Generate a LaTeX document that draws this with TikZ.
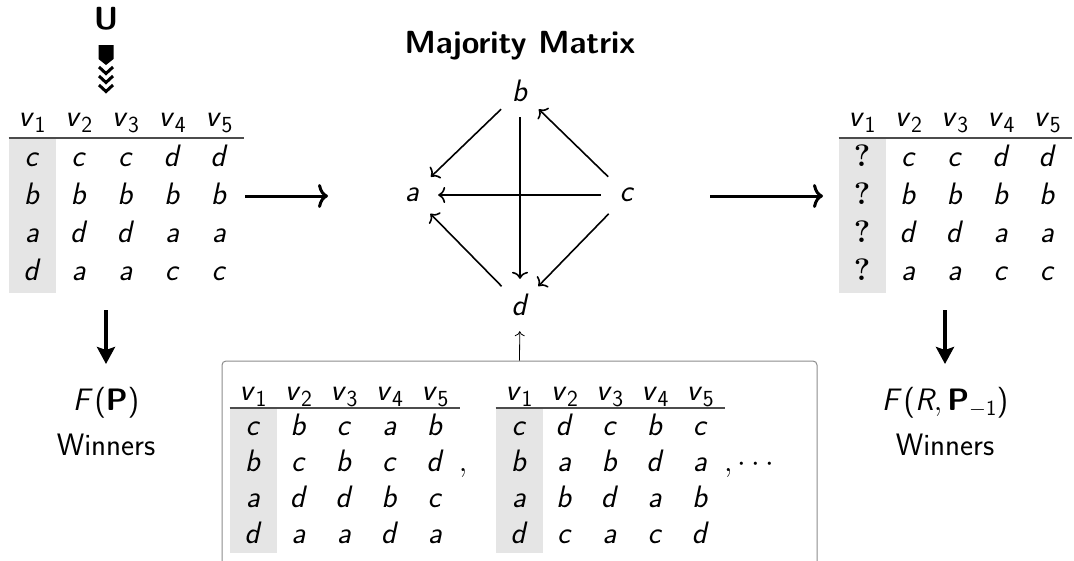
\RequirePackage{fix-cm}
\documentclass[tikz,border=0pt]{standalone}
\usepackage{amsmath}
\usetikzlibrary{arrows.meta}
\newcommand{\fs}{\fontsize{31}{36}\selectfont\sffamily}
\newcommand{\mv}[1]{\textit{v}\kern0.5pt\raisebox{-0.2em}{\fontsize{23}{26}\selectfont #1}}
\newcommand{\mi}[1]{\textit{#1}}
\newcommand{\qm}{{\rmfamily\bfseries ?}}
% #1 name, #2 x0, #3 dx, #4 header baseline, #5 rule y, #6 first row baseline, #7 dy, #8 gray bottom, #9 rows
\newcommand{\drawtab}[9]{%
  \fill[cellbg] ({#2-23.5}, #5) rectangle ({#2+23.5}, #8);
  \draw[tabrule] ({#2-23.5}, #5) -- ({#2+4*#3+25}, #5);
  \foreach \k in {1,...,5} {\node[cell] (#1-h\k) at ({#2+(\k-1)*#3}, #4) {\mv{\k}};}
  \foreach \r/\row in {#9} {%
    \foreach \e [count=\k from 0] in \row {\node[cell] (#1-\r-\k) at ({#2+\k*#3}, {#6+\r*#7}) {\e};}
  }%
}
\begin{document}
\begin{tikzpicture}[x=1pt,y=-1pt,
  every node/.style={font=\fs, inner sep=0pt},
  cell/.style={anchor=base},
  cellbg/.style={fill=black!10},
  tabrule/.style={draw=black!70, line width=1.3pt},
  vert/.style={circle, minimum size=52pt, inner sep=0pt},
  edge/.style={line width=1.6pt, -{Computer Modern Rightarrow[length=7pt,width=16pt]}},
  bigarrow/.style={line width=3pt, -{Computer Modern Rightarrow[length=10pt,width=24pt]}},
  downarrow/.style={line width=3.5pt, -{Stealth[length=17pt,width=18pt,inset=3pt]}},
  thinarrow/.style={line width=0.8pt, -{Computer Modern Rightarrow[length=5pt,width=10pt]}},
  boxstyle/.style={draw=black!45, line width=1pt, rounded corners=4pt}
]
\useasboundingbox (0,0) rectangle (1074,560);
\clip (0,0) rectangle (1074,560);

% U symbol
\node[font=\fontsize{32}{36}\selectfont\sffamily\bfseries] (U) at (106,19) {U};
\fill (98.5,45) -- (113.5,45) -- (113.5,59) -- (106,65) -- (98.5,59) -- cycle;
\foreach \yy in {67,76,85} {\draw[line width=3pt, line join=miter] (99,\yy) -- (106,{\yy+6.5}) -- (113,\yy);}

% left table
\drawtab{lt}{32}{46.75}{126}{138}{166}{38}{293}{0/{\mi{c},\mi{c},\mi{c},\mi{d},\mi{d}},1/{\mi{b},\mi{b},\mi{b},\mi{b},\mi{b}},2/{\mi{a},\mi{d},\mi{d},\mi{a},\mi{a}},3/{\mi{d},\mi{a},\mi{a},\mi{c},\mi{c}}}

% right table
\drawtab{rt}{862}{46.3}{126}{138}{166}{38}{293}{0/{\qm,\mi{c},\mi{c},\mi{d},\mi{d}},1/{\qm,\mi{b},\mi{b},\mi{b},\mi{b}},2/{\qm,\mi{d},\mi{d},\mi{a},\mi{a}},3/{\qm,\mi{a},\mi{a},\mi{c},\mi{c}}}

% majority matrix
\node[font=\fontsize{32}{36}\selectfont\sffamily\bfseries] (title) at (520,46) {Majority Matrix};
\node[vert] (b) at (520,91) {\mi{b}};
\node[vert] (a) at (412,195) {\mi{a}};
\node[vert] (c) at (627,195) {\mi{c}};
\node[vert] (d) at (520,305) {\mi{d}};
\draw[edge] (b) -- (a);
\draw[edge] (c) -- (b);
\draw[edge] (c) -- (a);
\draw[edge] (b) -- (d);
\draw[edge] (d) -- (a);
\draw[edge] (c) -- (d);

% horizontal arrows
\coordinate (l1) at (245,196);
\coordinate (l2) at (328,196);
\coordinate (r1) at (710,196);
\coordinate (r2) at (823,196);
\draw[bigarrow] (l1) -- (l2);
\draw[bigarrow] (r1) -- (r2);

% down arrows and winners
\coordinate (ld1) at (106,310);
\coordinate (ld2) at (106,364);
\coordinate (rd1) at (945,310);
\coordinate (rd2) at (945,364);
\draw[downarrow] (ld1) -- (ld2);
\draw[downarrow] (rd1) -- (rd2);
\node (fp) at (106,403) {$\textit{F}\,\textsf{(}\textbf{P}\textsf{)}$};
\node (wl) at (106,445) {Winners};
\node (frp) at (945,403) {$\textit{F}\,\textsf{(}\textit{R}, \textbf{P}_{-\textsf{1}}\textsf{)}$};
\node (wr) at (945,445) {Winners};

% bottom box
\node[boxstyle, minimum width=595pt, minimum height=230pt] (box) at (519.5,476) {};
\draw[thinarrow] (box.north) -- (d);
\drawtab{bl}{253}{45.5}{400}{408}{435}{36}{553}{0/{\mi{c},\mi{b},\mi{c},\mi{a},\mi{b}},1/{\mi{b},\mi{c},\mi{b},\mi{c},\mi{d}},2/{\mi{a},\mi{d},\mi{d},\mi{b},\mi{c}},3/{\mi{d},\mi{a},\mi{a},\mi{d},\mi{a}}}
\drawtab{br}{519}{45.3}{400}{408}{435}{36}{553}{0/{\mi{c},\mi{d},\mi{c},\mi{b},\mi{c}},1/{\mi{b},\mi{a},\mi{b},\mi{d},\mi{a}},2/{\mi{a},\mi{b},\mi{d},\mi{a},\mi{b}},3/{\mi{d},\mi{c},\mi{a},\mi{c},\mi{d}}}
\node[anchor=base] (comma1) at (463,471) {$,$};
\node[anchor=base west] (comma2) at (724,471) {$,\cdots$};
\end{tikzpicture}
\end{document}
